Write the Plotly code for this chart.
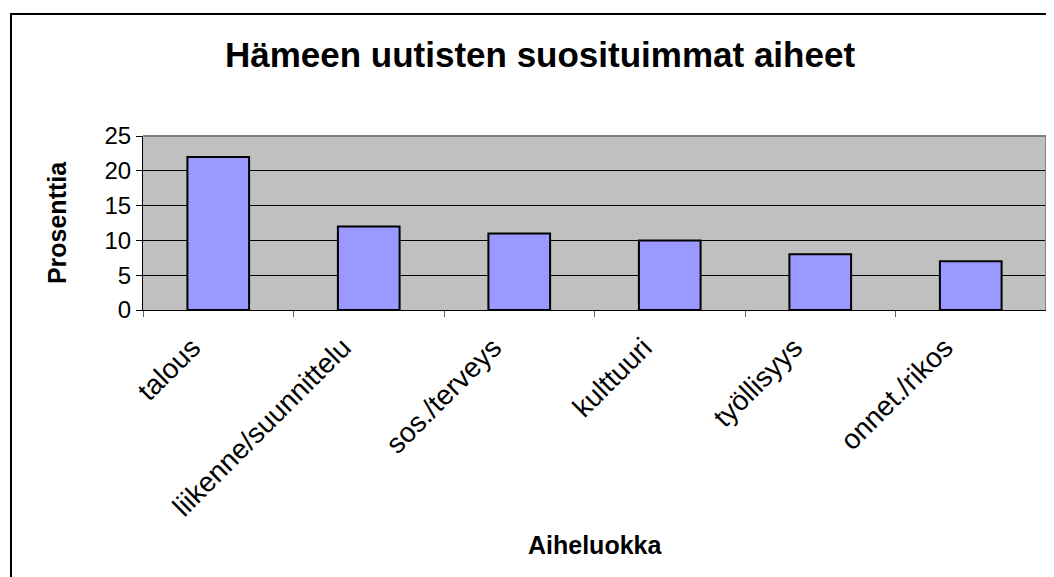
import plotly.graph_objects as go

# data
aiheet = ['talous', 'liikenne/suunnittelu', 'sos./terveys', 'kulttuuri', 'työllisyys', 'onnet./rikos']
prosentit = [22, 12, 11, 10, 8, 7]

fnt = 'Liberation Sans, Arial, sans-serif'

# the page body adds an 8px margin, so the figure is made 8px smaller
W, H = 1046, 569
L, T = 135, 128
PW, PH = 903, 174  # plot area size in px

fig = go.Figure()
fig.add_trace(go.Bar(
    x=aiheet,
    y=prosentit,
    marker=dict(color='#9999FF', line=dict(color='black', width=2)),
))

fig.update_layout(
    width=W, height=H,
    margin=dict(l=L, r=W - L - PW, t=T, b=H - T - PH),
    paper_bgcolor='white',
    plot_bgcolor='#C0C0C0',
    bargap=0.59,
    showlegend=False,
    font=dict(family=fnt, color='black', size=24),
    title=dict(text='<b>Hämeen uutisten suosituimmat aiheet</b>',
               x=(540 - 8) / W, xanchor='center', y=1 - 47 / H, yanchor='middle',
               font=dict(family=fnt, size=35, color='black')),
)

fig.update_xaxes(
    tickangle=-45,
    tickfont=dict(size=28),
    ticklabelshift=-26, ticklabelstandoff=9,
    ticks='outside', tickson='boundaries', ticklen=6, tickcolor='#606060',
    showline=True, linecolor='black', linewidth=1,
    showgrid=False,
)
fig.update_yaxes(
    range=[0, 25], dtick=5,
    tickfont=dict(size=24),
    ticks='outside', ticklen=6, tickcolor='black',
    showline=True, linecolor='black', linewidth=1,
    showgrid=True, gridcolor='black', gridwidth=1,
    zeroline=False,
    title=dict(text='<b>Prosenttia</b>', font=dict(size=25), standoff=30),
)

# x axis title placed as an annotation
fig.add_annotation(text='<b>Aiheluokka</b>', xref='paper', yref='paper',
                   x=0.5, y=(T + PH - (545 - 8)) / PH, xanchor='center', yanchor='middle',
                   showarrow=False, font=dict(size=25))

# plot area border on top and right (gray)
fig.add_shape(type='line', xref='paper', yref='paper', x0=0, x1=1, y0=1, y1=1,
              line=dict(color='#808080', width=2), layer='above')
fig.add_shape(type='line', xref='paper', yref='paper', x0=1, x1=1, y0=0, y1=1,
              line=dict(color='#808080', width=2), layer='above')
# outer chart border (runs off the picture right and bottom)
fig.add_shape(type='rect', xref='paper', yref='paper',
              x0=(3 - L) / PW, x1=2, y0=-3, y1=(T + PH - 6) / PH,
              line=dict(color='black', width=2), layer='above')

fig.write_html('out.html')
